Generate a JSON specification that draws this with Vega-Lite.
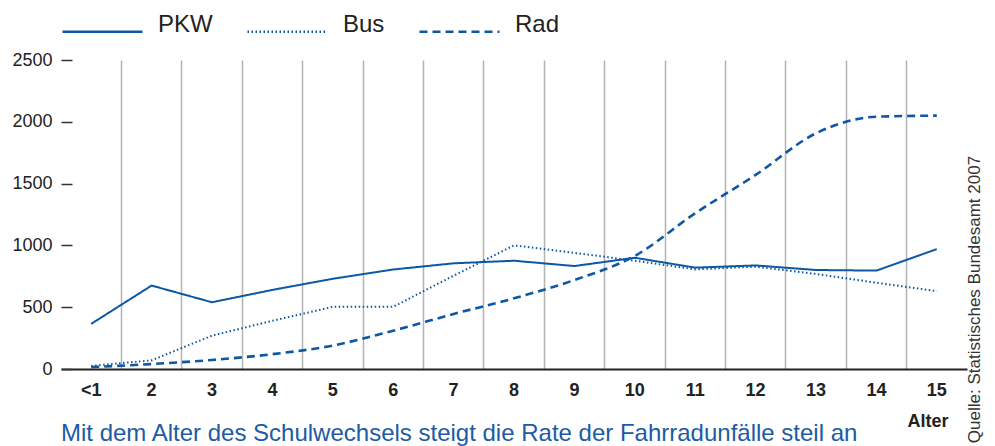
{
  "$schema": "https://vega.github.io/schema/vega-lite/v6.json",
  "width": 906,
  "height": 309,
  "autosize": {"type": "none"},
  "padding": {"left": 61, "top": 60, "right": 28, "bottom": 77},
  "background": "white",
  "config": {"view": {"stroke": null}, "font": "Liberation Sans"},
  "title": {
    "text": "Mit dem Alter des Schulwechsels steigt die Rate der Fahrradunfälle steil an",
    "orient": "bottom",
    "anchor": "start",
    "frame": "group",
    "fontSize": 24,
    "fontWeight": "normal",
    "font": "Liberation Sans",
    "color": "#1d5ba4",
    "offset": 0,
    "dy": -21
  },
  "data": {
    "values": [
      {"Alter": "<1", "Typ": "PKW", "Wert": 365},
      {"Alter": "2", "Typ": "PKW", "Wert": 675},
      {"Alter": "3", "Typ": "PKW", "Wert": 540},
      {"Alter": "4", "Typ": "PKW", "Wert": 640},
      {"Alter": "5", "Typ": "PKW", "Wert": 730},
      {"Alter": "6", "Typ": "PKW", "Wert": 805},
      {"Alter": "7", "Typ": "PKW", "Wert": 855},
      {"Alter": "8", "Typ": "PKW", "Wert": 876},
      {"Alter": "9", "Typ": "PKW", "Wert": 833},
      {"Alter": "10", "Typ": "PKW", "Wert": 900},
      {"Alter": "11", "Typ": "PKW", "Wert": 820},
      {"Alter": "12", "Typ": "PKW", "Wert": 838},
      {"Alter": "13", "Typ": "PKW", "Wert": 801},
      {"Alter": "14", "Typ": "PKW", "Wert": 796},
      {"Alter": "15", "Typ": "PKW", "Wert": 970},
      {"Alter": "<1", "Typ": "Bus", "Wert": 25},
      {"Alter": "2", "Typ": "Bus", "Wert": 70},
      {"Alter": "3", "Typ": "Bus", "Wert": 270},
      {"Alter": "4", "Typ": "Bus", "Wert": 390},
      {"Alter": "5", "Typ": "Bus", "Wert": 503},
      {"Alter": "6", "Typ": "Bus", "Wert": 503},
      {"Alter": "7", "Typ": "Bus", "Wert": 755},
      {"Alter": "8", "Typ": "Bus", "Wert": 1000},
      {"Alter": "9", "Typ": "Bus", "Wert": 940},
      {"Alter": "10", "Typ": "Bus", "Wert": 876},
      {"Alter": "11", "Typ": "Bus", "Wert": 806},
      {"Alter": "12", "Typ": "Bus", "Wert": 828},
      {"Alter": "13", "Typ": "Bus", "Wert": 769},
      {"Alter": "14", "Typ": "Bus", "Wert": 698},
      {"Alter": "15", "Typ": "Bus", "Wert": 630},
      {"Alter": "<1", "Typ": "Rad", "Wert": 15},
      {"Alter": "2", "Typ": "Rad", "Wert": 40},
      {"Alter": "3", "Typ": "Rad", "Wert": 73},
      {"Alter": "4", "Typ": "Rad", "Wert": 120},
      {"Alter": "5", "Typ": "Rad", "Wert": 190},
      {"Alter": "6", "Typ": "Rad", "Wert": 310},
      {"Alter": "7", "Typ": "Rad", "Wert": 445},
      {"Alter": "8", "Typ": "Rad", "Wert": 572},
      {"Alter": "9", "Typ": "Rad", "Wert": 720},
      {"Alter": "10", "Typ": "Rad", "Wert": 915},
      {"Alter": "11", "Typ": "Rad", "Wert": 1260},
      {"Alter": "12", "Typ": "Rad", "Wert": 1570},
      {"Alter": "13", "Typ": "Rad", "Wert": 1907},
      {"Alter": "14", "Typ": "Rad", "Wert": 2041},
      {"Alter": "15", "Typ": "Rad", "Wert": 2050}
    ]
  },
  "layer": [
    {
      "mark": {"type": "point", "opacity": 0},
      "encoding": {
        "x": {
          "field": "Alter", "type": "nominal",
          "scale": {"type": "band", "paddingInner": 0, "paddingOuter": 0, "domain": ["<1","2","3","4","5","6","7","8","9","10","11","12","13","14","15"]},
          "axis": {
            "orient": "top", "grid": true, "bandPosition": 0, "labels": false, "ticks": false, "domain": false, "title": null,
            "gridColor": "#b3b3b3", "gridWidth": 1.5,
            "gridOpacity": {"condition": {"test": "datum.value === '<1'", "value": 0}, "value": 1}
          }
        },
        "y": {
          "field": "Wert", "type": "quantitative",
          "scale": {"domain": [0, 2500], "nice": false, "zero": true},
          "axis": {
            "orient": "right", "labels": false, "ticks": false, "domain": false, "grid": false,
            "title": "Quelle: Statistisches Bundesamt 2007",
            "titleAngle": 270, "titleX": 7, "titleY": 239, "titleAlign": "center", "titleBaseline": "middle",
            "titleFontSize": 17, "titleFontWeight": "normal", "titleColor": "#333333", "titleFont": "Liberation Sans"
          }
        }
      }
    },
    {
      "transform": [{"filter": "datum.Typ !== 'Rad'"}],
      "mark": {"type": "line", "color": "#0d57a3", "strokeWidth": 2},
      "encoding": {
        "x": {
          "field": "Alter", "type": "nominal", "bandPosition": 0.5,
          "scale": {"type": "band", "paddingInner": 0, "paddingOuter": 0, "domain": ["<1","2","3","4","5","6","7","8","9","10","11","12","13","14","15"]},
          "axis": {
            "orient": "bottom", "grid": false,
            "title": "Alter", "titleFontSize": 18, "titleFontWeight": "bold", "titleColor": "#222222",
            "titleX": 887, "titleY": 57, "titleAlign": "right", "titleBaseline": "alphabetic",
            "labelAngle": 0, "labelFontSize": 18, "labelFontWeight": "bold", "labelColor": "#222222",
            "labelPadding": 26, "labelBaseline": "alphabetic",
            "ticks": false, "tickSize": 0,
            "domainColor": "#222222", "domainWidth": 2
          }
        },
        "y": {
          "field": "Wert", "type": "quantitative",
          "scale": {"domain": [0, 2500], "nice": false, "zero": true},
          "axis": {
            "orient": "left", "title": null, "values": [0, 500, 1000, 1500, 2000, 2500], "format": "d",
            "offset": -11, "tickSize": 11, "tickColor": "#333333", "tickWidth": 1.5,
            "labelFontSize": 18, "labelColor": "#222222", "labelPadding": 9,
            "domain": false, "grid": false
          }
        },
        "strokeDash": {
          "field": "Typ", "type": "nominal",
          "scale": {"domain": ["PKW", "Bus", "Rad"], "range": [[1, 0], [1.5, 2.5], [8, 5]]},
          "legend": {
            "orient": "none", "legendX": 0, "legendY": -70, "direction": "horizontal", "title": null,
            "symbolType": "stroke", "symbolSize": 6400, "symbolStrokeWidth": 2.5, "symbolStrokeColor": "#0d57a3",
            "labelFontSize": 24, "labelColor": "#222222", "labelOffset": 14, "columnPadding": 29,
            "labelBaseline": "alphabetic", "labelFont": "Liberation Sans"
          }
        }
      }
    },
    {
      "transform": [{"filter": "datum.Typ === 'Rad'"}],
      "mark": {"type": "line", "color": "#0d57a3", "strokeWidth": 2.6, "interpolate": "monotone"},
      "encoding": {
        "x": {"field": "Alter", "type": "nominal", "bandPosition": 0.5, "axis": null},
        "y": {"field": "Wert", "type": "quantitative", "axis": null},
        "strokeDash": {"field": "Typ", "type": "nominal"}
      }
    }
  ],
  "resolve": {"axis": {"x": "independent", "y": "independent"}}
}
